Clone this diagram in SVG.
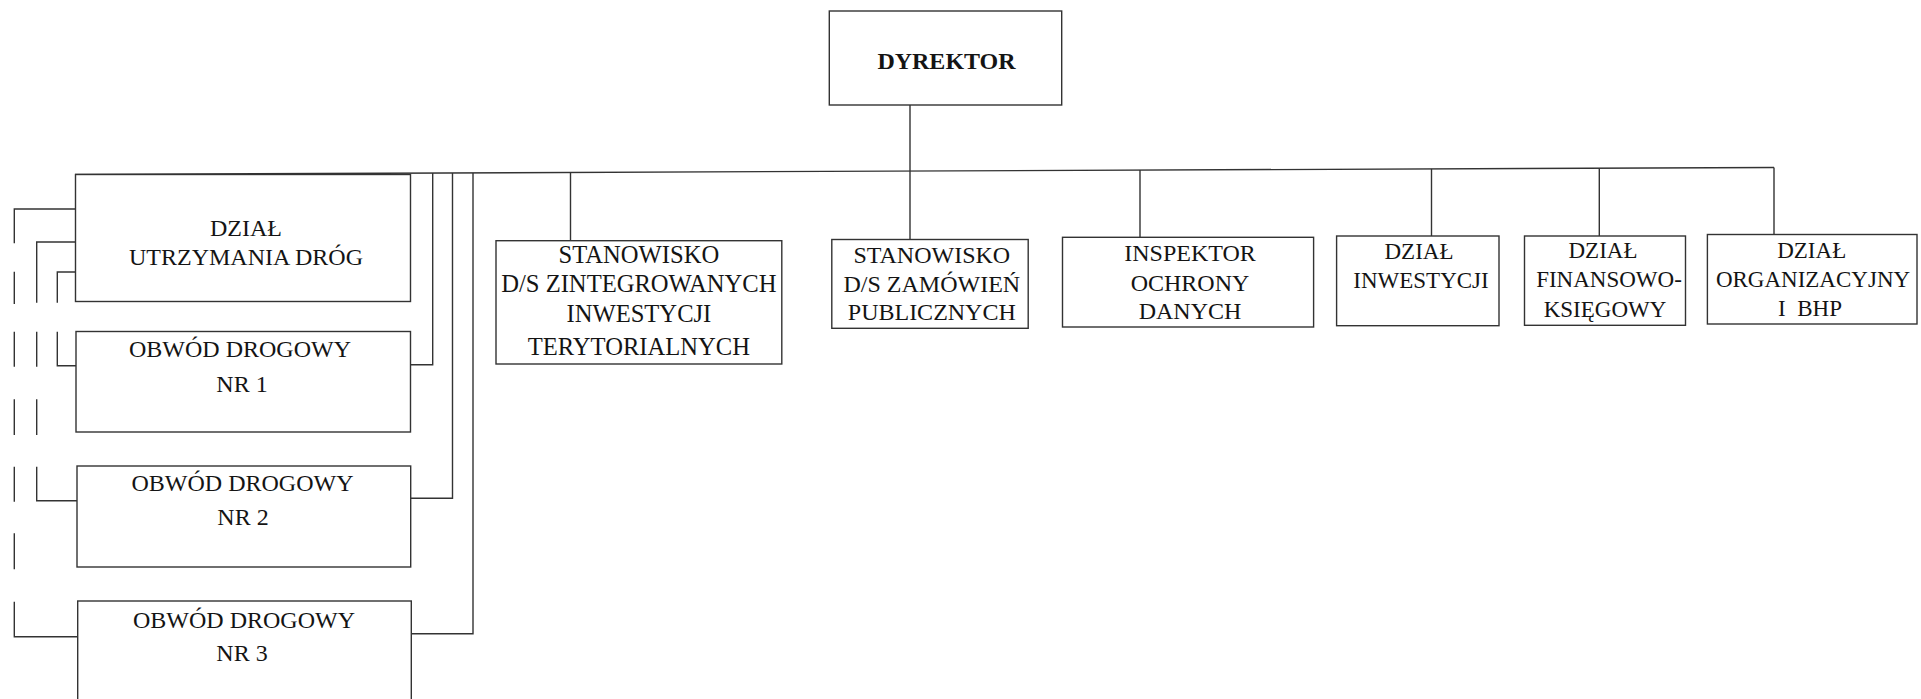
<svg xmlns="http://www.w3.org/2000/svg" width="1921" height="699" viewBox="0 0 1921 699">
<style>
  .box{fill:#fff;stroke:#333;stroke-width:1.4}
  .ln{fill:none;stroke:#333;stroke-width:1.4}
  text{font-family:"Liberation Serif","Times New Roman",serif;fill:#141414;text-anchor:middle}
  .t24{font-size:24px}
  .t245{font-size:24.6px}
  .t23{font-size:23px}
  .b{font-weight:bold;font-size:24px}
</style>
<rect width="1921" height="699" fill="#fff"/>

<g id="connectors">
  <path class="ln" d="M75,174.5 L1774,167.5"/>
  <path class="ln" d="M910,105 V239.5"/>
  <path class="ln" d="M570.5,172.5 V240.7"/>
  <path class="ln" d="M1140,170.1 V237.3"/>
  <path class="ln" d="M1431.5,168.9 V236"/>
  <path class="ln" d="M1599.3,168.2 V236"/>
  <path class="ln" d="M1774,167.5 V234.5"/>
  <path class="ln" d="M432.7,173 V364.7 H410.5"/>
  <path class="ln" d="M452.5,172.9 V498.3 H410.7"/>
  <path class="ln" d="M473,172.9 V633.7 H411.3"/>
  <path class="ln" d="M75,209 H14.3 V243.3 M14.3,271.7 V304 M14.3,331.7 V366.7 M14.3,399.3 V435 M14.3,466.7 V501.7 M14.3,533.3 V569.3 M14.3,601.7 V636.7 H77.7"/>
  <path class="ln" d="M75,242 H36.7 V302.7 M36.7,331.7 V366.7 M36.7,399.3 V435 M36.7,466.7 V500.7 H77"/>
  <path class="ln" d="M75,272 H57.3 V302.7 M57.3,331.7 V365.7 H76"/>
</g>

<g id="dyrektor">
  <rect class="box" x="829.3" y="11" width="232.4" height="94"/>
  <text class="b" x="946.5" y="69">DYREKTOR</text>
</g>

<g id="dzial-utrzymania-drog">
  <rect class="box" x="75.5" y="174.5" width="335" height="127"/>
  <text class="t24" x="246" y="235.8">DZIAŁ</text>
  <text class="t24" x="246" y="264.8">UTRZYMANIA DRÓG</text>
</g>

<g id="obwod-1">
  <rect class="box" x="76" y="331.5" width="334.5" height="100.5"/>
  <text class="t24" x="240" y="356.5">OBWÓD DROGOWY</text>
  <text class="t24" x="242" y="391.5">NR 1</text>
</g>

<g id="obwod-2">
  <rect class="box" x="77" y="466" width="333.7" height="101"/>
  <text class="t24" x="242.5" y="491.3">OBWÓD DROGOWY</text>
  <text class="t24" x="243" y="525.2">NR 2</text>
</g>

<g id="obwod-3">
  <rect class="box" x="77.7" y="601" width="333.6" height="110"/>
  <text class="t24" x="244" y="627.8">OBWÓD DROGOWY</text>
  <text class="t24" x="242" y="661">NR 3</text>
</g>

<g id="stanowisko-zit">
  <rect class="box" x="496" y="240.7" width="285.8" height="123.3"/>
  <text class="t245" x="638.9" y="262.7">STANOWISKO</text>
  <text class="t245" x="638.9" y="291.7">D/S ZINTEGROWANYCH</text>
  <text class="t245" x="638.9" y="322.3">INWESTYCJI</text>
  <text class="t245" x="638.9" y="355">TERYTORIALNYCH</text>
</g>

<g id="stanowisko-zp">
  <rect class="box" x="831.8" y="239.5" width="196.4" height="88.8"/>
  <text class="t24" x="931.8" y="262.7">STANOWISKO</text>
  <text class="t24" x="931.8" y="291.7">D/S ZAMÓWIEŃ</text>
  <text class="t24" x="931.8" y="320">PUBLICZNYCH</text>
</g>

<g id="inspektor">
  <rect class="box" x="1062.5" y="237.3" width="251.1" height="89.7"/>
  <text class="t24" x="1190" y="260.7">INSPEKTOR</text>
  <text class="t24" x="1190" y="290.7">OCHRONY</text>
  <text class="t24" x="1190" y="319.3">DANYCH</text>
</g>

<g id="dzial-inwestycji">
  <rect class="box" x="1336.6" y="236" width="162.4" height="89.7"/>
  <text class="t23" x="1419" y="259">DZIAŁ</text>
  <text class="t23" x="1421" y="288.3">INWESTYCJI</text>
</g>

<g id="dzial-finansowo">
  <rect class="box" x="1524.5" y="236" width="161" height="89.3"/>
  <text class="t23" x="1603" y="257.7">DZIAŁ</text>
  <text class="t23" x="1609" y="286.7">FINANSOWO-</text>
  <text class="t23" x="1605" y="316.7">KSIĘGOWY</text>
</g>

<g id="dzial-organizacyjny">
  <rect class="box" x="1707.4" y="234.5" width="209.6" height="89.5"/>
  <text class="t23" x="1811.7" y="257.7">DZIAŁ</text>
  <text class="t23" x="1813" y="286.7">ORGANIZACYJNY</text>
  <text class="t23" x="1810" y="316" xml:space="preserve">I  BHP</text>
</g>
</svg>
